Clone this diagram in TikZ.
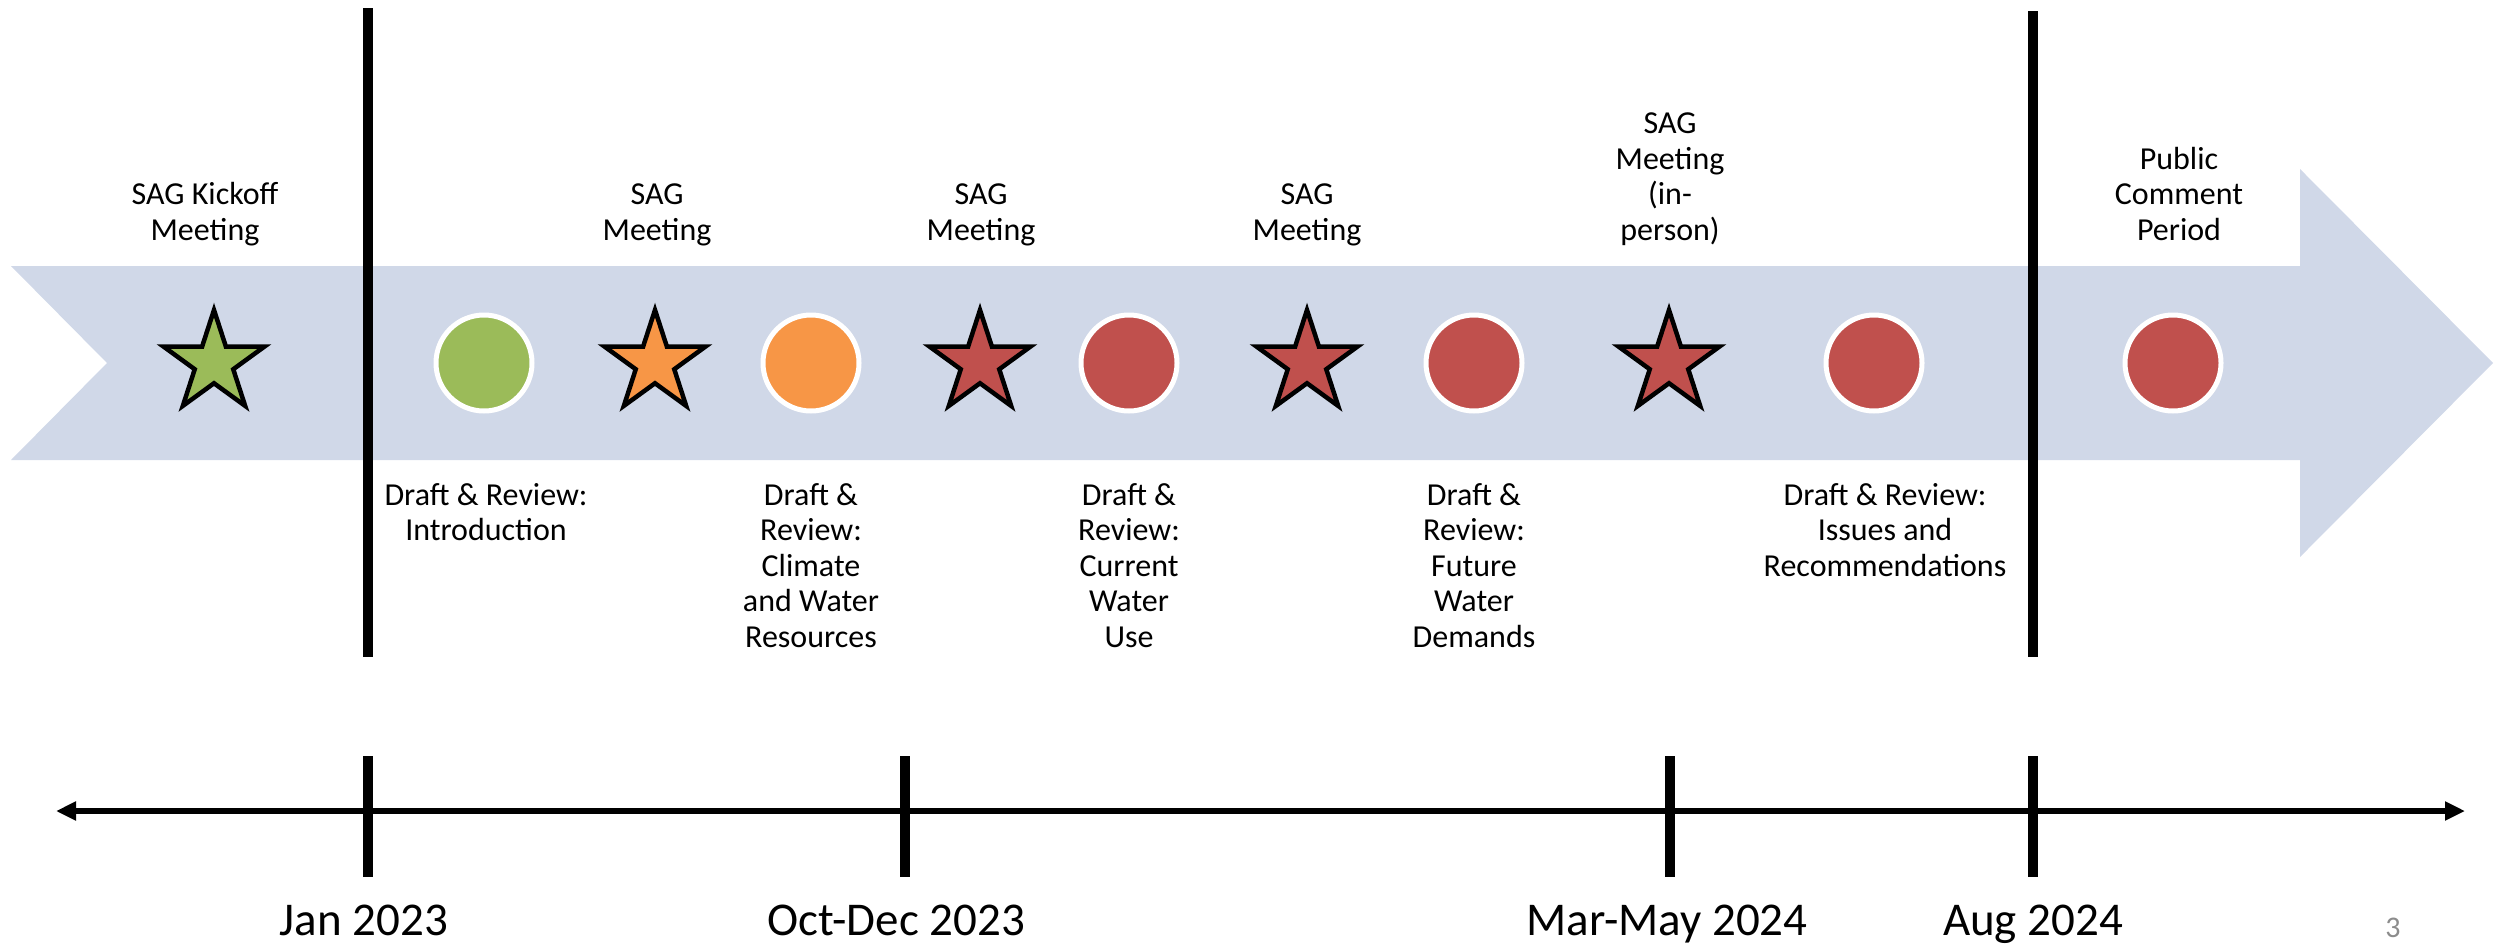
\documentclass[tikz,border=0pt]{standalone}
\usepackage{fontspec}
\setmainfont{Carlito}
\usetikzlibrary{shapes.geometric,arrows.meta}
\definecolor{bandcol}{HTML}{D0D8E8}
\definecolor{gcol}{HTML}{9BBB59}
\definecolor{ocol}{HTML}{F79646}
\definecolor{rcol}{HTML}{C0504D}
\definecolor{numcol}{HTML}{8C8C8C}
\begin{document}
\begin{tikzpicture}[x=1pt,y=-1pt,
  mstar/.style={star, star points=5, star point ratio=2.618, minimum size=106pt, inner sep=0pt, draw=black, line width=4.5pt},
  mdot/.style={circle, minimum size=96pt, inner sep=0pt, draw=white, line width=5pt},
  lbl/.style={align=center, font=\fontsize{32}{35.5}\selectfont, inner sep=0pt, anchor=base},
  datelbl/.style={font=\fontsize{47}{56}\selectfont, inner sep=0pt, anchor=base},
  bar/.style={line width=10pt},
  axis/.style={line width=6pt, {Triangle[length=20pt,width=18pt]}-{Triangle[length=20pt,width=18pt]}},
]
\useasboundingbox (0,0) rectangle (2494,945);
% band arrow
\fill[bandcol] (11,266) -- (2300,266) -- (2300,169) -- (2493,363) -- (2300,557) -- (2300,460) -- (11,460) -- (107,363) -- cycle;
% vertical separators
\coordinate (v1t) at (368,8);
\coordinate (v1b) at (368,657);
\coordinate (v2t) at (2033,11);
\coordinate (v2b) at (2033,657);
\draw[bar] (v1t) -- (v1b);
\draw[bar] (v2t) -- (v2b);
% markers
\node[mstar, fill=gcol] (s1) at (214,363) {};
\node[mdot, fill=gcol] (c1) at (484,363) {};
\node[mstar, fill=ocol] (s2) at (655,363) {};
\node[mdot, fill=ocol] (c2) at (811,363) {};
\node[mstar, fill=rcol] (s3) at (980,363) {};
\node[mdot, fill=rcol] (c3) at (1129,363) {};
\node[mstar, fill=rcol] (s4) at (1307,363) {};
\node[mdot, fill=rcol] (c4) at (1474,363) {};
\node[mstar, fill=rcol] (s5) at (1669,363) {};
\node[mdot, fill=rcol] (c5) at (1874,363) {};
\node[mdot, fill=rcol] (c6) at (2173,363) {};
% top labels (base = last baseline)
\node[lbl] (t1) at (205,240) {SAG Kickoff\\Meeting};
\node[lbl] (t2) at (657,240) {SAG\\Meeting};
\node[lbl] (t3) at (981,240) {SAG\\Meeting};
\node[lbl] (t4) at (1307,240) {SAG\\Meeting};
\node[lbl] (t5) at (1670,240) {SAG\\Meeting\\(in-\\person)};
\node[lbl] (t6) at (2179,240) {Public\\Comment\\Period};
% bottom labels (base = last baseline; first baseline at 505)
\node[lbl] (b1) at (486,540.5) {Draft \& Review:\\Introduction};
\node[lbl] (b2) at (811,647) {Draft \&\\Review:\\Climate\\and Water\\Resources};
\node[lbl] (b3) at (1129,647) {Draft \&\\Review:\\Current\\Water\\Use};
\node[lbl] (b4) at (1474,647) {Draft \&\\Review:\\Future\\Water\\Demands};
\node[lbl] (b5) at (1885,576) {Draft \& Review:\\Issues and\\Recommendations};
% time axis
\coordinate (al) at (56,811);
\coordinate (ar) at (2465,811);
\draw[axis] (al) -- (ar);
\coordinate (k1t) at (368,756); \coordinate (k1b) at (368,877);
\coordinate (k2t) at (905,756); \coordinate (k2b) at (905,877);
\coordinate (k3t) at (1670,756); \coordinate (k3b) at (1670,877);
\coordinate (k4t) at (2033,756); \coordinate (k4b) at (2033,877);
\draw[bar] (k1t) -- (k1b);
\draw[bar] (k2t) -- (k2b);
\draw[bar] (k3t) -- (k3b);
\draw[bar] (k4t) -- (k4b);
% dates
\node[datelbl] (d1) at (364,935) {Jan 2023};
\node[datelbl] (d2) at (896,935) {Oct-Dec 2023};
\node[datelbl] (d3) at (1667,935) {Mar-May 2024};
\node[datelbl] (d4) at (2033,935) {Aug 2024};
\node[font=\fontsize{30}{36}\selectfont, text=numcol, inner sep=0pt, anchor=base] (pg) at (2393,937) {3};
\end{tikzpicture}
\end{document}
